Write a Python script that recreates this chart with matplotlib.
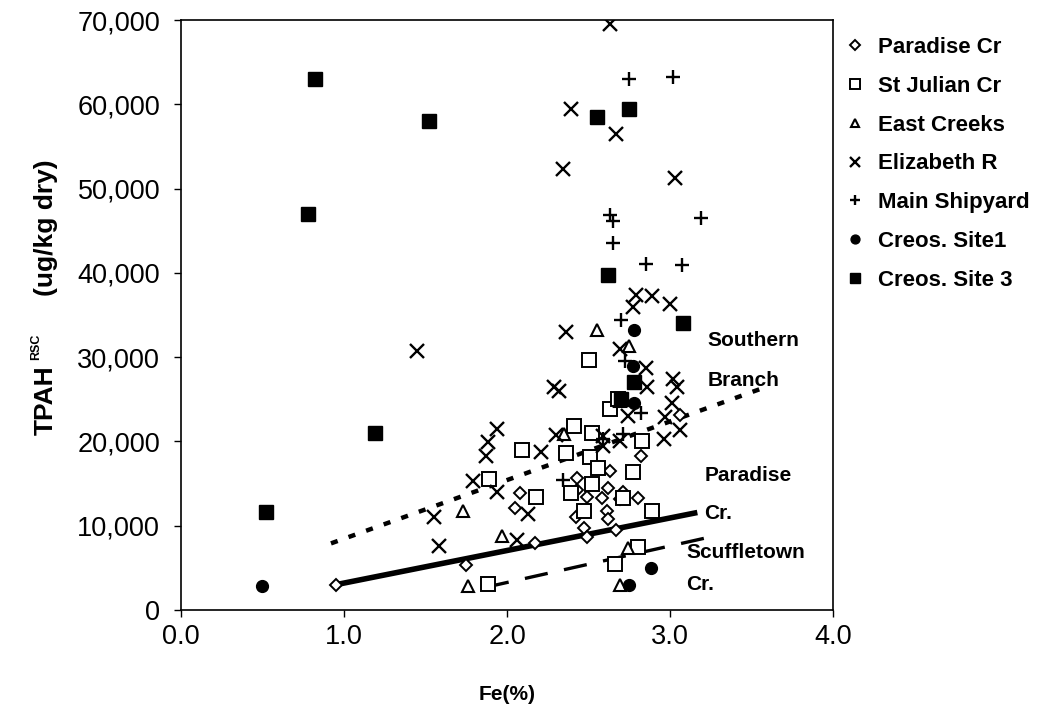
import numpy as np
import matplotlib
matplotlib.use("Agg")
import matplotlib.pyplot as plt
from matplotlib.ticker import FuncFormatter

plt.rcParams['font.family'] = ['Liberation Sans', 'DejaVu Sans']

#===================================================
# data  (Fe %, TPAH ug/kg dry)
paradise_x = [0.95, 1.75, 2.05, 2.08, 2.17, 2.42, 2.43, 2.43, 2.47, 2.49, 2.49, 2.58,
              2.61, 2.62, 2.63, 2.67, 2.69, 2.71, 2.80, 2.82, 3.06, 2.62]
paradise_y = [3000, 5300, 12100, 13900, 8000, 11000, 14200, 15600, 9700, 8700, 13400, 13300,
              11800, 10800, 16500, 9500, 13200, 14000, 13300, 18300, 23100, 14500]

julian_x = [1.88, 1.89, 2.09, 2.18, 2.36, 2.39, 2.41, 2.47, 2.50, 2.51, 2.52, 2.52,
            2.56, 2.63, 2.66, 2.68, 2.71, 2.77, 2.80, 2.83, 2.89]
julian_y = [3100, 15500, 19000, 13400, 18600, 13900, 21800, 11700, 29700, 18100, 21000, 14900,
            16800, 23900, 5400, 25000, 13300, 16400, 7500, 20000, 11700]

east_x = [1.73, 1.76, 1.97, 2.35, 2.55, 2.69, 2.74, 2.69, 2.75]
east_y = [11800, 2800, 8800, 20900, 33200, 24800, 7400, 3000, 31300]

eliz_x = [1.45, 1.55, 1.58, 1.79, 1.87, 1.88, 1.94, 1.94, 2.06, 2.13, 2.21, 2.29, 2.32,
          2.30, 2.34, 2.36, 2.39, 2.59, 2.59, 2.63, 2.67, 2.69, 2.69, 2.74, 2.77, 2.79,
          2.85, 2.86, 2.89, 2.96, 2.97, 3.00, 3.01, 3.02, 3.03, 3.04, 3.06]
eliz_y = [30700, 11000, 7600, 15300, 18300, 19900, 21500, 14000, 8300, 11400, 18800, 26400, 26000,
          20800, 52300, 33000, 59500, 20600, 19400, 69500, 56500, 31000, 20100, 23000, 35900, 37400,
          28700, 26500, 37300, 20300, 22900, 36300, 24600, 27400, 51300, 26400, 21300]

ship_x = [2.34, 2.59, 2.63, 2.65, 2.65, 2.70, 2.71, 2.72, 2.75, 2.82, 2.85, 3.02, 3.07, 3.19]
ship_y = [15400, 20300, 46900, 46100, 43500, 34400, 20900, 29500, 63000, 23400, 41100, 63200,
          40900, 46500]

site1_x = [0.50, 2.78, 2.77, 2.78, 2.88, 2.75]
site1_y = [2800, 33200, 29000, 24500, 5000, 3000]

site3_x = [0.52, 0.78, 0.82, 1.19, 1.52, 2.55, 2.75, 2.62, 3.08, 2.78, 2.70]
site3_y = [11600, 47000, 63000, 21000, 58000, 58500, 59500, 39800, 34000, 27000, 25000]

# trend lines (end points)
south_x = [0.92, 3.55]
south_y = [7900, 26200]
parad_line_x = [0.95, 3.15]
parad_line_y = [3000, 11500]
scuff_x = [1.87, 3.30]
scuff_y = [2700, 8900]

#===================================================
fig = plt.figure(figsize=(10.37, 7.12), dpi=100)
ax = fig.add_axes([0.1745, 0.1433, 0.629, 0.8286])

ax.plot(south_x, south_y, color='black', lw=3.2, linestyle=(0, (1.6, 2.6)), solid_capstyle='butt')
ax.plot(parad_line_x, parad_line_y, color='black', lw=4)
ax.plot(scuff_x, scuff_y, color='black', lw=2.4, linestyle=(0, (7, 5)))

ax.plot(paradise_x, paradise_y, 'D', ms=6.5, mfc='white', mec='black', mew=1.4, ls='none', label='Paradise Cr')
ax.plot(julian_x, julian_y, 's', ms=9.5, mfc='white', mec='black', mew=1.4, ls='none', label='St Julian Cr')
ax.plot(east_x, east_y, '^', ms=8.5, mfc='white', mec='black', mew=1.5, ls='none', label='East Creeks')
ax.plot(eliz_x, eliz_y, 'x', ms=9.5, mec='black', mew=1.7, ls='none', label='Elizabeth R')
ax.plot(ship_x, ship_y, '+', ms=9.5, mec='black', mew=1.7, ls='none', label='Main Shipyard')
ax.plot(site1_x, site1_y, 'o', ms=8.5, color='black', ls='none', label='Creos. Site1')
ax.plot(site3_x, site3_y, 's', ms=9.5, color='black', ls='none', label='Creos. Site 3')

ax.text(3.23, 29600, 'Southern\nBranch', fontsize=15, fontweight='bold', va='center', linespacing=2.45)
ax.text(3.21, 13700, 'Paradise\nCr.', fontsize=15, fontweight='bold', va='center', linespacing=2.25)
ax.text(3.10, 4900, 'Scuffletown\nCr.', fontsize=15, fontweight='bold', va='center', linespacing=1.9)

ax.set_xlim(0, 4)
ax.set_ylim(0, 70000)
ax.set_xticks([0, 1, 2, 3, 4])
ax.set_yticks(np.arange(0, 70001, 10000))
ax.xaxis.set_major_formatter(FuncFormatter(lambda v, p: '%.1f' % v))
ax.yaxis.set_major_formatter(FuncFormatter(lambda v, p: '{:,.0f}'.format(v)))
ax.tick_params(axis='both', labelsize=19.5, direction='out', length=5, width=1)
ax.tick_params(axis='y', pad=10)
ax.tick_params(axis='x', pad=5)
for s in ax.spines.values():
    s.set_linewidth(1.2)

ax.set_xlabel('Fe(%)', fontsize=15, fontweight='bold', labelpad=25)

fig.text(0.044, 0.438, 'TPAH', rotation=90, fontsize=19, fontweight='bold', ha='center', va='center')
fig.text(0.035, 0.513, 'RSC', rotation=90, fontsize=9, fontweight='bold', ha='center', va='center')
fig.text(0.044, 0.680, '(ug/kg dry)', rotation=90, fontsize=19, fontweight='bold', ha='center', va='center')

leg = ax.legend(loc='upper left', bbox_to_anchor=(0.985, 1.005), frameon=False,
                markerscale=0.75, handlelength=1.0, handletextpad=0.55, labelspacing=0.8,
                prop={'weight': 'bold', 'size': 16})

plt.savefig('out.png', dpi=100)
